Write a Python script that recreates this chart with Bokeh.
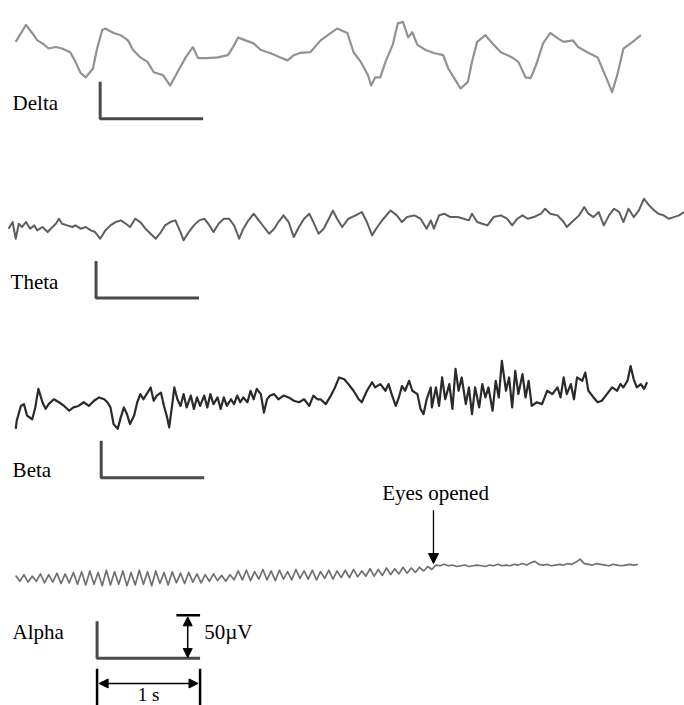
from bokeh.plotting import figure
from bokeh.models import Range1d, Arrow, NormalHead, Label
from bokeh.embed import file_html
from bokeh.resources import INLINE

# ---------------- data (time in s, amplitude in microvolts) ----------------
delta_t = [0.07, 0.17, 0.23, 0.28, 0.33, 0.39, 0.46, 0.52, 0.60, 0.65,
           0.70, 0.75, 0.82, 0.86, 0.91, 0.94, 1.02, 1.09, 1.16, 1.21,
           1.28, 1.35, 1.41, 1.50, 1.57, 1.64, 1.72, 1.79, 1.84, 1.93,
           2.03, 2.13, 2.18, 2.23, 2.30, 2.38, 2.45, 2.54, 2.64, 2.71,
           2.77, 2.83, 2.93, 3.03, 3.13, 3.19, 3.29, 3.35, 3.42, 3.49,
           3.52, 3.56, 3.61, 3.66, 3.73, 3.78, 3.83, 3.88, 3.92, 3.97,
           4.05, 4.13, 4.22, 4.27, 4.34, 4.39, 4.46, 4.50, 4.55, 4.63,
           4.71, 4.78, 4.89, 4.95, 5.02, 5.07, 5.12, 5.19, 5.26, 5.33,
           5.39, 5.48, 5.53, 5.62, 5.72, 5.78, 5.82, 5.86, 5.91, 5.97,
           6.06, 6.14]
delta_uv = [18, 41, 30, 20, 16, 9, 11, 9, 4, -9,
            -24, -30, -18, 9, 34, 36, 30, 27, 20, 7,
            -3, -9, -23, -27, -41, -23, -3, 11, -4, -4,
            -3, 0, 11, 24, 20, 16, 7, 3, -3, -7,
            0, 3, 4, 20, 30, 36, 30, 4, -9, -27,
            -41, -30, -30, -9, 14, 43, 45, 24, 31, 14,
            7, 3, 0, -18, -34, -45, -36, -9, 18, 27,
            14, 4, -3, -9, -30, -31, -14, 16, 30, 23,
            18, 20, 11, 4, -3, -23, -36, -50, -27, 9,
            18, 27]

theta_t = [0.00, 0.04, 0.07, 0.10, 0.13, 0.17, 0.21, 0.25, 0.28, 0.33,
           0.38, 0.41, 0.46, 0.49, 0.52, 0.57, 0.62, 0.65, 0.70, 0.75,
           0.80, 0.84, 0.89, 0.94, 0.99, 1.04, 1.09, 1.14, 1.18, 1.23,
           1.28, 1.33, 1.38, 1.43, 1.48, 1.52, 1.57, 1.62, 1.67, 1.70,
           1.75, 1.80, 1.85, 1.90, 1.94, 1.99, 2.04, 2.09, 2.14, 2.19,
           2.24, 2.28, 2.33, 2.38, 2.43, 2.48, 2.53, 2.58, 2.62, 2.67,
           2.72, 2.77, 2.82, 2.87, 2.92, 2.96, 3.01, 3.06, 3.11, 3.15,
           3.19, 3.24, 3.30, 3.37, 3.43, 3.48, 3.53, 3.58, 3.64, 3.71,
           3.77, 3.82, 3.87, 3.94, 4.00, 4.06, 4.10, 4.13, 4.18, 4.23,
           4.29, 4.36, 4.42, 4.47, 4.50, 4.55, 4.60, 4.65, 4.71, 4.78,
           4.84, 4.89, 4.94, 4.99, 5.04, 5.10, 5.17, 5.21, 5.26, 5.33,
           5.39, 5.42, 5.47, 5.54, 5.59, 5.63, 5.68, 5.73, 5.78, 5.83,
           5.88, 5.93, 5.97, 6.02, 6.07, 6.12, 6.17, 6.22, 6.27, 6.31,
           6.36, 6.41, 6.46, 6.51, 6.56]
theta_uv = [-4.5, 4.5, -18, 2.2, -2.2, 4.5, -4.5, 0, -6.8, -2.2,
            -9, -4.5, 2.2, 9, 2.2, 0, -2.2, 0, -4.5, -2.2,
            -6.8, -9, -18, -6.8, 0, 4.5, 6.8, 2.2, -2.2, 9,
            4.5, -4.5, -11.2, -18, -9, 0, 4.5, 6.8, -9, -20.2,
            -9, 0, 6.8, 9, 2.2, -9, 2.2, 9, 9, 0,
            -18, -4.5, 6.8, 15.8, 6.8, -2.2, -11.2, -4.5, 4.5, 13.5,
            4.5, -15.8, -2.2, 9, 15.8, 4.5, -11.2, -4.5, 9, 20,
            9, -2.2, 9, 13.5, 18, 4.5, -13.5, -2.2, 9, 20.2,
            13.5, 4.5, 11.2, 13.5, 9, -4.5, 6.8, -4.5, 13.5, 15.8,
            11.2, 11.2, 9, 6.8, 15.8, 4.5, 2.2, 0, 11.2, 13.5,
            9, 0, 9, 13.5, 9, 11.2, 15.8, 22.5, 15.8, 13.5,
            4.5, -2.2, 4.5, 13.5, 24.8, 15.8, 11.2, 18, 0, 13.5,
            22.5, 18, 4.5, 22.5, 11.2, 20.2, 36, 27, 20.2, 15.8,
            13.5, 9, 11.2, 13.5, 18]

beta_t = [0.07, 0.08, 0.12, 0.15, 0.18, 0.23, 0.26, 0.29, 0.33, 0.36,
          0.39, 0.44, 0.49, 0.54, 0.59, 0.63, 0.68, 0.73, 0.78, 0.83,
          0.88, 0.93, 0.96, 0.99, 1.02, 1.06, 1.09, 1.12, 1.15, 1.18,
          1.22, 1.25, 1.28, 1.31, 1.35, 1.38, 1.41, 1.44, 1.48, 1.51,
          1.54, 1.56, 1.59, 1.61, 1.64, 1.67, 1.70, 1.73, 1.77, 1.80,
          1.83, 1.86, 1.90, 1.93, 1.96, 1.99, 2.03, 2.06, 2.09, 2.12,
          2.16, 2.19, 2.22, 2.25, 2.28, 2.32, 2.35, 2.38, 2.41, 2.45,
          2.48, 2.51, 2.54, 2.58, 2.62, 2.67, 2.72, 2.77, 2.82, 2.87,
          2.92, 2.96, 3.00, 3.03, 3.08, 3.13, 3.17, 3.21,
          3.26, 3.30, 3.35, 3.40, 3.43, 3.48, 3.53, 3.56, 3.61, 3.66,
          3.69, 3.72, 3.76, 3.79, 3.82, 3.85, 3.89, 3.92, 3.97, 4.00,
          4.03, 4.06, 4.10, 4.11, 4.15, 4.18, 4.21, 4.24, 4.28, 4.31,
          4.34, 4.37, 4.40, 4.44, 4.47, 4.50, 4.53, 4.57, 4.60, 4.63,
          4.66, 4.70, 4.73, 4.76, 4.79, 4.83, 4.86, 4.89, 4.92, 4.95,
          4.99, 5.02, 5.05, 5.08, 5.13, 5.18, 5.23, 5.28, 5.33, 5.36,
          5.39, 5.42, 5.46, 5.49, 5.52, 5.57, 5.60, 5.63, 5.68, 5.72,
          5.76, 5.81, 5.86, 5.91, 5.94, 5.97, 6.01, 6.04, 6.07, 6.10,
          6.14, 6.17, 6.20]
beta_uv = [-38, -27, -7, -4.5, -20, -25, -9, 16, -2, -11,
           -4.5, 2, -2, -7, -13.5, -9, -7, -2, -7, 0,
           4.5, 2, -2, -9, -31.5, -38, -22.5, -9, -18, -31.5,
           -20, -2, 9, 2, 11, 18, 0, 7, 11, -7,
           -22.5, -36, -4.5, 18, 2, -7, 9, -9, 7, -11,
           4.5, -7, 7, -9, 9, -4.5, 4.5, -11, 4.5, -7,
           2, -4.5, 7, -2, 4.5, -2, 13.5, 2, 16, 9,
           -16, 2, 7, 9, 2, 7, 4.5, 0, -2, 2,
           -7, 7, 2, 2, -4.5, 7, 18, 31.5,
           29, 22.5, 13.5, 2, -2, 13.5, 25, 18, 22.5, 13.5,
           22.5, 9, -7, 4.5, 20, 13.5, 27, 13.5, 9, -11,
           -18, 2, 18, -9, 18, -7, 31.5, 2, 22.5, -11,
           43, 13.5, 31.5, -4.5, 18, -18, 18, -9, 22.5, 4.5,
           18, -13.5, 27, 4.5, 54, 13.5, 31.5, -9, 40.5, 9,
           36, 4.5, 27, -7, -2, -4.5, 13.5, 9, 18, 4.5,
           31.5, 9, 22.5, 2, 31.5, 27, 38, 13.5, 4.5, -2,
           0, 9, 18, 13.5, 22.5, 18, 27, 47, 29, 18,
           22.5, 16, 25]

# alpha: uniformly sampled record (start time and sampling interval)
alpha_start_s = 0.07
alpha_step_s = 0.04
alpha_uv = [-4, -12, -3, -13, -5, -12, -2, -14, -3, -13, -1, -15, -2, -14, 0, -16,
            1, -17, 2, -16, 0, -18, 3, -17, 1, -16, 2, -18, 0, -17, 3,
            -16, 1, -18, 2, -15, 0, -17, 1, -14, -1, -15, 0, -13, -2, -14,
            -3, -12, -2, -11, -4, -12, -3, -10,
            2, -10, 3, -11, 1, -9, 4, -10, 2, -11, 3, -9, 1,
            -10, 4, -8, 2, -9, 3, -10, 1, -8, 3, -9, 2, -7,
            3, -7, 4, -6, 2, -5, 5, -5, 4, -4, 6, -3, 5, -2, 7, -1, 6, 0, 7, 2, 8, 4,
            10, 9, 11, 9, 10, 8, 9, 10, 8, 9,
            10, 9, 8, 10, 9, 11, 9, 10, 9, 11,
            10, 12, 10, 13, 15, 11, 10, 11, 9, 10,
            11, 10, 12, 11, 14, 18, 12, 11, 10, 12,
            11, 10, 9, 11, 10, 9, 10, 11, 10, 11]
alpha_t = [alpha_start_s + i * alpha_step_s for i in range(len(alpha_uv))]

labels = ["Delta", "Theta", "Beta", "Alpha"]
scale_uv = 50
scale_s = 1

# ---------------- layout ----------------
PX_PER_S = 103.0
PX_PER_UV = 0.74
W, H = 684, 705
X0_PX, Y0_PX = 8, 697   # canvas pixel of (t=0, 0 uV)

# vertical offsets (uV) of each trace baseline, label centre and scale-bar corner
delta_base, theta_base, beta_base, alpha_base = 868, 638, 401, 169
label_y = [803, 562, 307, 88]
label_x = [0.04, 0.02, 0.04, 0.04]
bar_corner = [(0.89, 782), (0.85, 540), (0.90, 297), (0.86, 53)]

FONT = "Liberation Serif"
FS = "21px"

p = figure(width=W, height=H, output_backend="svg", toolbar_location=None,
           x_range=Range1d(-X0_PX / PX_PER_S, (W - X0_PX) / PX_PER_S),
           y_range=Range1d((Y0_PX - H) / PX_PER_UV, Y0_PX / PX_PER_UV),
           x_axis_type=None, y_axis_type=None, min_border=0,
           outline_line_color=None, background_fill_color="white")

traces = [
    (delta_t, delta_uv, delta_base, "#929292", 2.2),
    (theta_t, theta_uv, theta_base, "#5e5e5e", 2.0),
    (beta_t, beta_uv, beta_base, "#2a2a2a", 2.2),
    (alpha_t, alpha_uv, alpha_base, "#707070", 1.7),
]
for t, v, base, color, lw in traces:
    p.line(t, [base + a for a in v], line_color=color, line_width=lw,
           line_join="round")

for (cx, cy) in bar_corner:
    p.line([cx, cx, cx + scale_s], [cy + scale_uv, cy, cy],
           line_color="#4a4a4a", line_width=3)

for txt, lx, ly in zip(labels, label_x, label_y):
    p.add_layout(Label(x=lx, y=ly, text=txt, text_font=FONT, text_font_size=FS,
                       text_baseline="middle", text_align="left",
                       text_color="black"))

# "Eyes opened" annotation
eyes_x = 4.126
p.add_layout(Label(x=eyes_x + 0.02, y=276, text="Eyes opened", text_font=FONT,
                   text_font_size=FS, text_baseline="middle", text_align="center",
                   text_color="black"))
p.add_layout(Arrow(end=NormalHead(size=10, fill_color="black", line_color="black"),
                   x_start=eyes_x, y_start=253, x_end=eyes_x, y_end=181,
                   line_width=1.3, line_color="black"))

# 50 uV marker
ax = 1.74
acx, acy = bar_corner[3]
p.line([ax - 0.11, ax + 0.12], [acy + 58, acy + 58], line_color="black", line_width=2.5)
p.add_layout(Arrow(start=NormalHead(size=9, fill_color="black", line_color="black"),
                   end=NormalHead(size=9, fill_color="black", line_color="black"),
                   x_start=ax, y_start=acy + 56, x_end=ax, y_end=acy + 1,
                   line_width=1.5, line_color="black"))
p.add_layout(Label(x=1.90, y=88, text="50\u00b5V", text_font=FONT, text_font_size=FS,
                   text_baseline="middle", text_align="left", text_color="black"))

# 1 s marker
sy = 19
for sx in (acx, acx + scale_s):
    p.line([sx, sx], [39, -12], line_color="black", line_width=2.5)
p.add_layout(Arrow(start=NormalHead(size=9, fill_color="black", line_color="black"),
                   end=NormalHead(size=9, fill_color="black", line_color="black"),
                   x_start=acx + 0.02, y_start=sy, x_end=acx + scale_s - 0.02, y_end=sy,
                   line_width=1.5, line_color="black"))
p.add_layout(Label(x=acx + scale_s / 2, y=-9.5, text="1 s", text_font=FONT,
                   text_font_size="19px", text_baseline="bottom", text_align="center",
                   text_color="black"))

open("out.html", "w").write(file_html(p, INLINE))
